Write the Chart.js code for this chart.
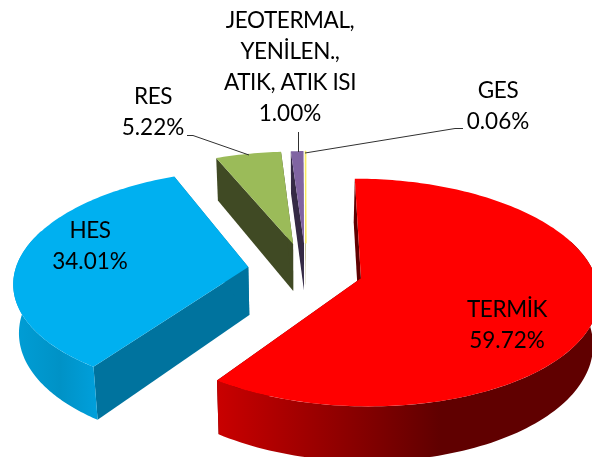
<!DOCTYPE html>
<html><head><meta charset="utf-8">
<style>html,body{margin:0;padding:0;background:#fff}#w{width:592px;height:457px}</style>
<script src="https://cdn.jsdelivr.net/npm/chart.js@4/dist/chart.umd.min.js"></script>
</head><body><div id="w"><canvas id="c" width="592" height="457"></canvas></div>
<script>
const categories = ['TERMİK','HES','RES','JEOTERMAL, YENİLEN., ATIK, ATIK ISI','GES'];
const values = [59.72,34.01,5.22,1.00,0.06];
const faceColors = ['#ff0000','#00b0f0','#9bbb59','#8064a2','#f7ea5e'];
const edgeColors = ['#600000','#00739e','#404a24','#352a45','#8a8030'];
const labelLines = [['TERMİK'],['HES'],['RES'],['JEOTERMAL,','YENİLEN.,','ATIK, ATIK ISI'],['GES']];

// layout, not data
const labelAnchor = [[507,317],[90,238],[153,104],[290,28],[498,98]];
const leaders = [null,null,[[187,135.5],[193,135.5],[249,155]],[[298.5,132],[298.5,152]],[[463,128.5],[455,128.5],[305,153]]];
const explode = [0.245,0.25,0.25,0.25,0.25];
const view = {cx:306,cy:270,A:233,B:110,p:0.125,lineGap:31};
const wallStops = [
  [[220,'#c80000'],[440,'#600000'],[600,'#600000']],
  [[14,'#009ed6'],[60,'#0092c6'],[98,'#00a0dc']],
  null,null,null
];
function project(gx,gy){const w=1-view.p*gy;return [view.cx+view.A*gx/w,view.cy+view.B*gy/w];}
function drop(pt){return [pt[0]+(300-pt[0])*0.02,pt[1]+48+(pt[1]-266)*0.05];}
function trace(ctx,pts){ctx.beginPath();pts.forEach((q,i)=>i?ctx.lineTo(q[0],q[1]):ctx.moveTo(q[0],q[1]));ctx.closePath();}
function poly(ctx,pts,fill){trace(ctx,pts);ctx.fillStyle=fill;ctx.fill();}

const pie3d={id:'pie3d',
  beforeDatasetsDraw(chart){
    const ctx=chart.ctx, arcs=chart.getDatasetMeta(0).data;
    [4,3,2,1,0].forEach(i=>{
      const el=arcs[i], s=el.startAngle, t=el.endAngle, m=(s+t)/2;
      const ox=explode[i]*Math.cos(m), oy=explode[i]*Math.sin(m);
      const at=a=>project(ox+Math.cos(a),oy+Math.sin(a));
      const apex=project(ox,oy), rim=[];
      const n=Math.max(2,Math.ceil((t-s)/0.02));
      for(let k=0;k<=n;k++) rim.push(at(s+(t-s)*k/n));
      let wall=edgeColors[i];
      if(wallStops[i]){
        const st=wallStops[i],x0=st[0][0],x1=st[st.length-1][0];
        wall=ctx.createLinearGradient(x0,0,x1,0);
        st.forEach(q=>wall.addColorStop((q[0]-x0)/(x1-x0),q[1]));
      }
      poly(ctx,[apex,rim[0],drop(rim[0]),drop(apex)],edgeColors[i]);
      poly(ctx,[apex,rim[n],drop(rim[n]),drop(apex)],edgeColors[i]);
      const f0=Math.max(s,-0.35), f1=Math.min(t,Math.PI+0.35);
      if(f1>f0){
        const front=[];
        for(let k=0;k<=100;k++) front.push(at(f0+(f1-f0)*k/100));
        poly(ctx,front.concat(front.map(drop).reverse()),wall);
      }
      poly(ctx,[apex].concat(rim),el.options.backgroundColor);
      if(t-s<0.01){ctx.strokeStyle=el.options.backgroundColor;ctx.lineWidth=1;trace(ctx,[apex].concat(rim));ctx.stroke();}
    });
    return false;
  },
  afterDraw(chart){
    const ctx=chart.ctx;
    ctx.strokeStyle='#303030';ctx.lineWidth=1;
    leaders.forEach(l=>{if(!l)return;ctx.beginPath();l.forEach((q,i)=>i?ctx.lineTo(q[0],q[1]):ctx.moveTo(q[0],q[1]));ctx.stroke();});
    ctx.font='22.5px Lato';ctx.fillStyle='#000';ctx.textAlign='center';ctx.textBaseline='alphabetic';
    values.forEach((v,i)=>{
      const lines=labelLines[i].concat([v.toFixed(2)+'%']);
      lines.forEach((tx,j)=>{
        ctx.letterSpacing=j<labelLines[i].length?'-0.4px':'0px';
        ctx.fillText(tx,labelAnchor[i][0],labelAnchor[i][1]+j*view.lineGap);
      });
    });
    ctx.letterSpacing='0px';
  }
};
new Chart(document.getElementById('c'),{
  type:'pie',
  data:{labels:categories,datasets:[{data:values,backgroundColor:faceColors,borderWidth:0}]},
  options:{responsive:false,animation:false,rotation:0,
    plugins:{legend:{display:false},tooltip:{enabled:false}}},
  plugins:[pie3d]
});
</script></body></html>
